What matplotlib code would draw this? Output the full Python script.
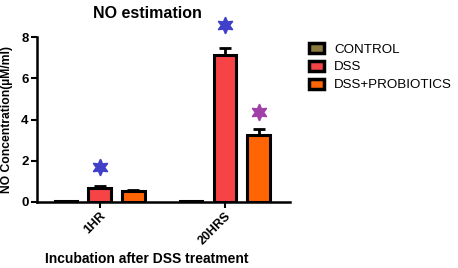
import numpy as np
import matplotlib.pyplot as plt

plt.rcParams.update({"font.family": "Liberation Sans", "font.size": 8})

# data
groups = ["1HR", "20HRS"]
series = ["CONTROL", "DSS", "DSS+PROBIOTICS"]
means = {
    "CONTROL": [0.03, 0.03],
    "DSS": [0.66, 7.15],
    "DSS+PROBIOTICS": [0.52, 3.23],
}
errors = {
    "CONTROL": [0.0, 0.0],
    "DSS": [0.12, 0.32],
    "DSS+PROBIOTICS": [0.08, 0.30],
}
colors = {"CONTROL": "#8a7a40", "DSS": "#f54346", "DSS+PROBIOTICS": "#ff6405"}

# significance stars: (group index, series, height, color)
stars = [
    (0, "DSS", 1.71, "#4040c8"),
    (1, "DSS", 8.6, "#4040c8"),
    (1, "DSS+PROBIOTICS", 4.37, "#a040a8"),
]

fig = plt.figure(figsize=(4.58, 2.68), dpi=100)
ax = fig.add_axes([37 / 458, 1 - 202 / 268, (290 - 37) / 458, (202 - 37) / 268])

x = np.arange(len(groups))
offsets = {"CONTROL": -0.27, "DSS": 0.0, "DSS+PROBIOTICS": 0.27}
width = 0.18

for s in series:
    ax.bar(x + offsets[s], means[s], width, color=colors[s], edgecolor="black",
           linewidth=2.2, label=s, zorder=2)
    ax.errorbar(x + offsets[s], means[s], yerr=[np.zeros(len(groups)), errors[s]],
                fmt="none", ecolor="black", elinewidth=2, capsize=4, capthick=2, zorder=1)

for gi, s, h, c in stars:
    ax.plot(x[gi] + offsets[s], h, marker=(6, 1, 0), markersize=12, color=c,
            linestyle="none", clip_on=False)

ax.set_xlim(-0.5, 1.52)
ax.set_ylim(0, 8)
ax.set_yticks([0, 2, 4, 6, 8])
ax.set_xticks(x)
ax.set_xticklabels(groups, rotation=45, ha="right", rotation_mode="anchor",
                   fontweight="bold", fontsize=9)
for lab in ax.get_yticklabels():
    lab.set_fontweight("bold")
    lab.set_fontsize(9.5)
ax.tick_params(width=1.5, length=4, pad=2)

ax.spines["top"].set_visible(False)
ax.spines["right"].set_visible(False)
ax.spines["left"].set_linewidth(1.8)
ax.spines["bottom"].set_linewidth(1.8)

ax.set_title("NO estimation", fontsize=11.5, fontweight="bold", pad=14)
ax.title.set_position(((147 - 37) / 253, 1 + 12 / 165))
ax.set_ylabel("NO Concentration(µM/ml)", fontsize=8.7, fontweight="bold")
ax.yaxis.set_label_coords(-24 / 253, 0.5)
ax.set_xlabel("Incubation after DSS treatment", fontsize=10, fontweight="bold")
ax.xaxis.set_label_coords((147 - 37) / 253, -50 / 165)

leg = fig.legend(loc="upper left", bbox_to_anchor=(297 / 458, 1 - 31 / 268), frameon=False,
                 fontsize=9.6, handlelength=1.1, handleheight=0.75, labelspacing=0.4,
                 handletextpad=0.8)
for h in leg.legend_handles:
    h.set_linewidth(2.5)

fig.savefig("out.png", dpi=100)
